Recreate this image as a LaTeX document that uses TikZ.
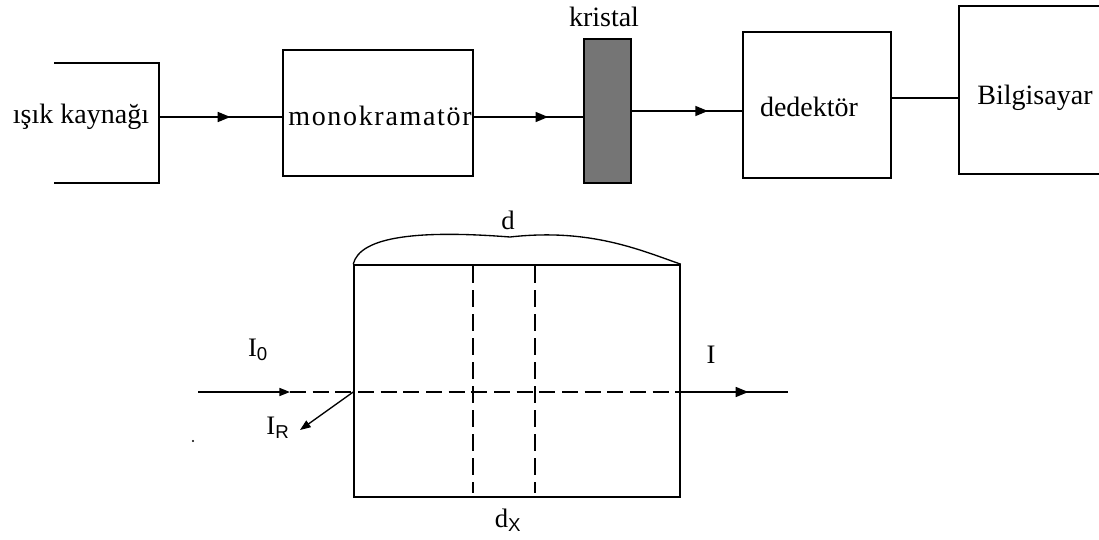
\documentclass[tikz,border=0pt]{standalone}
\usepackage{fontspec}
\setmainfont{Liberation Serif}
\setsansfont{Liberation Sans}
\usetikzlibrary{arrows.meta,decorations.markings}

\begin{document}
\begin{tikzpicture}[x=0.75pt, y=-0.75pt, line width=1.2pt,
    big/.style={font=\fontsize{21}{25}\selectfont},
    small/.style={font=\fontsize{20}{24}\selectfont},
    box/.style={draw, rectangle, inner sep=0pt},
    midtip/.style={postaction={decorate}, decoration={markings,
        mark=at position #1 with {\arrow{Triangle[length=9.5pt,width=7.5pt]}}}},
    tip/.style={-{Triangle[length=8pt,width=6pt]}},
    cut/.style={dash pattern=on 13pt off 5pt, line width=1.1pt}]
  \useasboundingbox (0,0) rectangle (1099,539);

  % setup
  \node (srcbox) [rectangle, minimum width=77.25pt, minimum height=88.5pt] at (106.5,123) {};
  \node (srctext) [big] at (81,117) {ışık kaynağı};
  \node (mono) [box, minimum width=142.5pt, minimum height=94.5pt] at (378,113) {};
  \node (monotext) [big] at (380,116) {\addfontfeature{LetterSpace=6}monokramatör};
  \node (crystal) [box, fill=black!54, minimum width=35.25pt, minimum height=108pt] at (607.5,111) {};
  \node (crystaltext) [big] at (604,17) {kristal};
  \node (det) [box, minimum width=111pt, minimum height=109.5pt] at (817,105) {};
  \node (dettext) [big] at (809,107) {dedektör};
  \node (pcbox) [rectangle, minimum width=104.25pt, minimum height=124.5pt] at (1029.5,90) {};
  \node (pctext) [big] at (1035,98) {Bilgisayar};

  \draw (srcbox.north west) -- (srcbox.north east) -- (srcbox.south east) -- (srcbox.south west);
  \draw (pcbox.north east) -- (pcbox.north west) -- (pcbox.south west) -- (pcbox.south east);

  \draw [midtip=0.58] (srcbox.east |- srctext) -- (mono.west |- srctext);
  \draw [midtip=0.68] (mono.east |- srctext) -- (crystal.west |- srctext);
  \draw [midtip=0.69] (crystal.east) -- (crystal.east -| det.west);
  \draw (det.east |- pctext) -- (pcbox.west |- pctext);

  % slab
  \node (slab) [box, minimum width=244.5pt, minimum height=174pt] at (517,381) {};
  \coordinate (in) at (198,392);
  \coordinate (hit) at (290,392);
  \coordinate (out) at (788,392);
  \coordinate (refl) at (300,430);
  \draw [cut] (473,266) -- (473,493);
  \draw [cut] (535,266) -- (535,493);
  \draw [tip] (in) -- (hit);
  \draw [dash pattern=on 12pt off 5pt, line width=1.1pt] (hit) -- (slab.east |- hit);
  \draw [midtip=0.63] (slab.east |- hit) -- (out);
  \draw [tip, line width=1pt] (slab.west |- hit) -- (refl);
  \draw [line width=1pt] (slab.north west) .. controls (360,236) and (420,230) .. (510,237)
    .. controls (590,228) and (640,250) .. (slab.north east);
  \fill (193,441) circle (0.8pt);

  \node (d) [small] at (508,220) {d};
  \node (I0) [small] at (258,350) {I\textsubscript{\sffamily 0}};
  \node (IR) [small] at (278,428) {I\textsubscript{\sffamily R}};
  \node (I) [small] at (711,355) {I};
  \node (dx) [small] at (508,520) {d\textsubscript{\sffamily X}};
\end{tikzpicture}
\end{document}
